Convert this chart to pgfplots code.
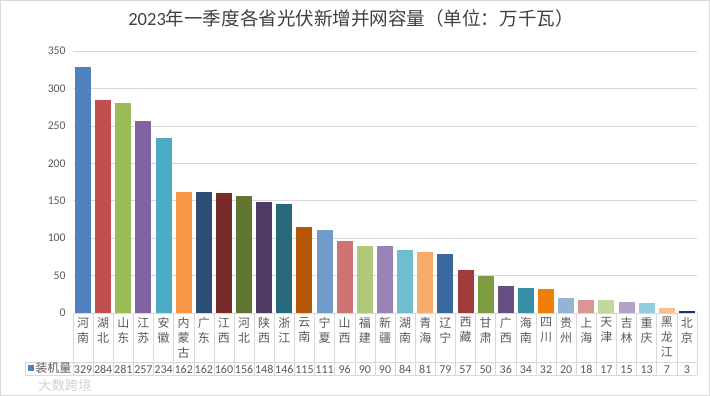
\documentclass[border=0pt]{standalone}
\usepackage{pgfplots}
\pgfplotsset{compat=1.18}
\usepackage{fontspec}
\setmainfont{Carlito}
\newfontfamily\cjk{Noto Sans CJK SC}
\definecolor{txt}{HTML}{595959}
\definecolor{ttl}{HTML}{404040}
\definecolor{grd}{HTML}{D9D9D9}
\definecolor{c1}{HTML}{4F81BD}
\definecolor{c2}{HTML}{C0504D}
\definecolor{c3}{HTML}{9BBB59}
\definecolor{c4}{HTML}{8064A2}
\definecolor{c5}{HTML}{4BACC6}
\definecolor{c6}{HTML}{F79646}
\definecolor{c7}{HTML}{2C4D75}
\definecolor{c8}{HTML}{772C2A}
\definecolor{c9}{HTML}{5F7530}
\definecolor{c10}{HTML}{4D3B62}
\definecolor{c11}{HTML}{276A7C}
\definecolor{c12}{HTML}{B65708}
\definecolor{c13}{HTML}{729ACA}
\definecolor{c14}{HTML}{CD7371}
\definecolor{c15}{HTML}{AFC97A}
\definecolor{c16}{HTML}{9983B5}
\definecolor{c17}{HTML}{6FBDD1}
\definecolor{c18}{HTML}{F9AB6B}
\definecolor{c19}{HTML}{3A679C}
\definecolor{c20}{HTML}{9F3B38}
\definecolor{c21}{HTML}{7E9C40}
\definecolor{c22}{HTML}{664F83}
\definecolor{c23}{HTML}{358EA6}
\definecolor{c24}{HTML}{F07F09}
\definecolor{c25}{HTML}{95B3D7}
\definecolor{c26}{HTML}{D99694}
\definecolor{c27}{HTML}{C3D69B}
\definecolor{c28}{HTML}{B2A2C7}
\definecolor{c29}{HTML}{93CDDD}
\definecolor{c30}{HTML}{FAC090}
\definecolor{c31}{HTML}{17375E}
\begin{document}
\begin{tikzpicture}[x=0.75pt,y=0.75pt]
\useasboundingbox (0,0) rectangle (710,396);
\draw[grd] (0.5,0.5) rectangle (709.5,395.5);
\node[font=\fontsize{13.9}{16}\selectfont, text=ttl] at (351,378) {2023{\cjk 年一季度各省光伏新增并网容量（单位：万千瓦）}};
\begin{axis}[
  at={(54.75pt,62.25pt)}, anchor=south west,
  width=468pt, height=196.5pt, scale only axis,
  xmin=-0.5, xmax=30.5, ymin=0, ymax=350,
  ytick={0,50,...,350},
  ymajorgrids, grid style={grd},
  axis line style={draw=none}, tick style={draw=none},
  /pgf/number format/assume math mode=true,
  yticklabel style={font=\fontsize{8.8}{10}\selectfont, text=txt, xshift=-2pt},
  xtick={0,...,30},
  xticklabels={{河\\南},{湖\\北},{山\\东},{江\\苏},{安\\徽},{内\\蒙\\古},{广\\东},{江\\西},{河\\北},{陕\\西},{浙\\江},{云\\南},{宁\\夏},{山\\西},{福\\建},{新\\疆},{湖\\南},{青\\海},{辽\\宁},{西\\藏},{甘\\肃},{广\\西},{海\\南},{四\\川},{贵\\州},{上\\海},{天\\津},{吉\\林},{重\\庆},{黑\\龙\\江},{北\\京}},
  xticklabel style={font=\cjk\fontsize{9}{11.25}\selectfont, text=txt, anchor=north, align=center, inner sep=0pt, yshift=-3pt},
  every axis plot/.append style={ybar, bar width=12pt, bar shift=0pt, draw=none},
]
\addplot[fill=c1] coordinates {(0,329)};
\addplot[fill=c2] coordinates {(1,284)};
\addplot[fill=c3] coordinates {(2,281)};
\addplot[fill=c4] coordinates {(3,257)};
\addplot[fill=c5] coordinates {(4,234)};
\addplot[fill=c6] coordinates {(5,162)};
\addplot[fill=c7] coordinates {(6,162)};
\addplot[fill=c8] coordinates {(7,160)};
\addplot[fill=c9] coordinates {(8,156)};
\addplot[fill=c10] coordinates {(9,148)};
\addplot[fill=c11] coordinates {(10,146)};
\addplot[fill=c12] coordinates {(11,115)};
\addplot[fill=c13] coordinates {(12,111)};
\addplot[fill=c14] coordinates {(13,96)};
\addplot[fill=c15] coordinates {(14,90)};
\addplot[fill=c16] coordinates {(15,90)};
\addplot[fill=c17] coordinates {(16,84)};
\addplot[fill=c18] coordinates {(17,81)};
\addplot[fill=c19] coordinates {(18,79)};
\addplot[fill=c20] coordinates {(19,57)};
\addplot[fill=c21] coordinates {(20,50)};
\addplot[fill=c22] coordinates {(21,36)};
\addplot[fill=c23] coordinates {(22,34)};
\addplot[fill=c24] coordinates {(23,32)};
\addplot[fill=c25] coordinates {(24,20)};
\addplot[fill=c26] coordinates {(25,18)};
\addplot[fill=c27] coordinates {(26,17)};
\addplot[fill=c28] coordinates {(27,15)};
\addplot[fill=c29] coordinates {(28,13)};
\addplot[fill=c30] coordinates {(29,7)};
\addplot[fill=c31] coordinates {(30,3)};
\end{axis}
\begin{axis}[
  at={(54.75pt,62.25pt)}, anchor=south west,
  width=468pt, height=196.5pt, scale only axis,
  xmin=-0.5, xmax=30.5, ymin=0, ymax=350,
  axis line style={draw=none}, tick style={draw=none},
  ytick=\empty,
  xtick={0,...,30},
  xticklabels={329,284,281,257,234,162,162,160,156,148,146,115,111,96,90,90,84,81,79,57,50,36,34,32,20,18,17,15,13,7,3},
  xticklabel style={font=\fontsize{9}{10}\selectfont, text=txt, anchor=base, inner sep=0pt, yshift=-45.5pt},
  /pgf/number format/assume math mode=true,
]
\end{axis}
% data table grid
\draw[grd] (73,83) -- (697,83);
\foreach \k in {0,...,31} {\draw[grd] ({73+\k*20.129},83) -- ({73+\k*20.129},21);}
\draw[grd] (25,34) -- (697,34);
\draw[grd] (25,21) -- (697,21);
\draw[grd] (25,21) -- (25,34);
\fill[c1] (28,25) rectangle (34,31);
\node[font=\cjk\fontsize{9}{10}\selectfont, text=txt, anchor=west, inner sep=0pt] at (35,28) {装机量};
\node[font=\cjk\fontsize{10}{12}\selectfont, text=gray!35, anchor=west, inner sep=0pt] at (38,11) {大数跨境};
\end{tikzpicture}
\end{document}
